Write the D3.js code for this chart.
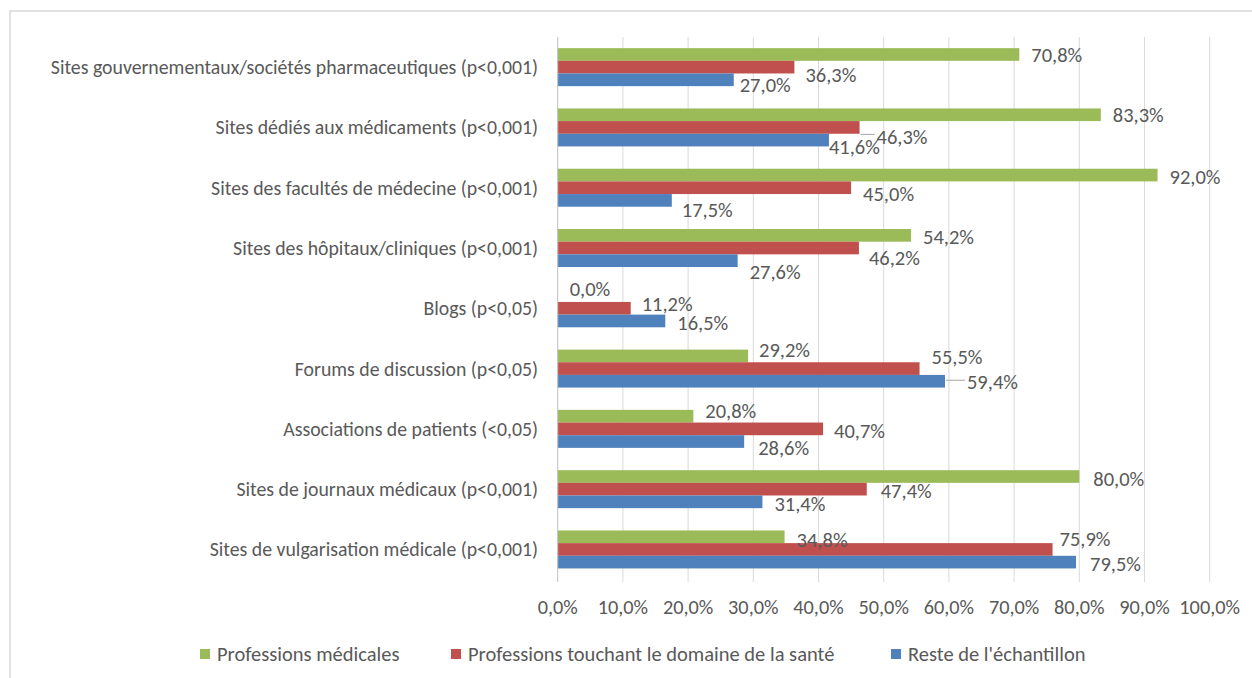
<!DOCTYPE html>
<html>
<head>
<meta charset="utf-8">
<script src="https://cdn.jsdelivr.net/npm/d3@7"></script>
<style>
  body { margin: 0; background: #fff; }
  text { font-family: Carlito, Calibri, "Open Sans", sans-serif; fill: #595959; }
</style>
</head>
<body>
<script>
// Data
const categories = [
  "Sites gouvernementaux/sociétés pharmaceutiques (p<0,001)",
  "Sites dédiés aux médicaments (p<0,001)",
  "Sites des facultés de médecine (p<0,001)",
  "Sites des hôpitaux/cliniques (p<0,001)",
  "Blogs (p<0,05)",
  "Forums de discussion (p<0,05)",
  "Associations de patients (<0,05)",
  "Sites de journaux médicaux (p<0,001)",
  "Sites de vulgarisation médicale (p<0,001)"
];
const seriesNames = ["Professions médicales", "Professions touchant le domaine de la santé", "Reste de l'échantillon"];
const medical = [70.8, 83.3, 92.0, 54.2, 0.0, 29.2, 20.8, 80.0, 34.8];
const healthRelated = [36.3, 46.3, 45.0, 46.2, 11.2, 55.5, 40.7, 47.4, 75.9];
const rest = [27.0, 41.6, 17.5, 27.6, 16.5, 59.4, 28.6, 31.4, 79.5];
const xTicks = [0, 10, 20, 30, 40, 50, 60, 70, 80, 90, 100];
const colors = ["#9BBB59", "#C0504D", "#4F81BD"];

// Excel moved some data labels around; nudges [dx, dy] from the bar end / bar center
const labelNudge = [
  [[12, 0], [12, 0], [12, 2], [12, 1], [12, -7], [11, -6], [12, -5], [14, 2], [12, 3]],
  [[11, 8], [17, 9], [12, 6], [10, 10], [11, -4], [12, -12], [11, 2], [14, 2], [7, -11]],
  [[6, 5], [0, 7], [10, 9], [12, 11], [12, 2], [22, 1], [14, 6], [12, 2], [14, 2]]
];
const leaderLines = [[1, 1], [2, 5]]; // [series, category] labels with a leader line

const width = 1252, height = 678;
const values = [medical, healthRelated, rest];

const svg = d3.select("body").append("svg")
  .attr("width", width)
  .attr("height", height);

// chart frame (only top and left edges show)
svg.append("rect")
  .attr("x", 10).attr("y", 11)
  .attr("width", 1260).attr("height", 700)
  .attr("fill", "none")
  .attr("stroke", "#d9d9d9")
  .attr("stroke-width", 1.5);

const x = d3.scaleLinear().domain([0, 100]).range([557.7, 1209.7]);
const y = d3.scaleBand().domain(categories).range([37, 579.6])
  .paddingInner(0.37).paddingOuter(0.185);
const ySub = d3.scaleBand().domain([0, 1, 2]).range([0, y.bandwidth()]);

const fr = d3.formatLocale({decimal: ",", thousands: " ", grouping: [3], currency: ["", "€"]});
const pct = fr.format(".1f");

// gridlines
svg.append("g").selectAll("line")
  .data(xTicks.slice(1))
  .join("line")
  .attr("x1", d => x(d)).attr("x2", d => x(d))
  .attr("y1", 37).attr("y2", 582)
  .attr("stroke", "#d9d9d9")
  .attr("stroke-width", 1);

// tick labels
svg.append("g").selectAll("text")
  .data(xTicks)
  .join("text")
  .attr("x", d => x(d))
  .attr("y", 607)
  .attr("dy", "0.35em")
  .attr("text-anchor", "middle")
  .style("font-size", "20.3px")
  .text(d => pct(d) + "%");

// bars
const bars = svg.append("g");
values.forEach((vals, s) => {
  bars.append("g").selectAll("rect")
    .data(vals)
    .join("rect")
    .attr("x", x(0))
    .attr("y", (d, i) => y(categories[i]) + ySub(s))
    .attr("width", d => x(d) - x(0))
    .attr("height", ySub.bandwidth())
    .attr("fill", colors[s]);
});

// vertical axis line
svg.append("line")
  .attr("x1", x(0)).attr("x2", x(0))
  .attr("y1", 37).attr("y2", 582)
  .attr("stroke", "#bfbfbf");

// category labels
svg.append("g").selectAll("text")
  .data(categories)
  .join("text")
  .attr("x", 538)
  .attr("y", d => y(d) + y.bandwidth() / 2)
  .attr("dy", "0.35em")
  .attr("text-anchor", "end")
  .style("font-size", "19.8px")
  .text(d => d);

// leader lines
leaderLines.forEach(([s, i]) => {
  const v = values[s][i];
  const yc = y(categories[i]) + ySub(s) + ySub.bandwidth() / 2 + labelNudge[s][i][1];
  svg.append("line")
    .attr("x1", x(v) + 1).attr("x2", x(v) + labelNudge[s][i][0] - 2)
    .attr("y1", yc - 2).attr("y2", yc - 2)
    .attr("stroke", "#a6a6a6");
});

// data labels
values.forEach((vals, s) => {
  svg.append("g").selectAll("text")
    .data(vals)
    .join("text")
    .attr("x", (d, i) => x(d) + labelNudge[s][i][0])
    .attr("y", (d, i) => y(categories[i]) + ySub(s) + ySub.bandwidth() / 2 + labelNudge[s][i][1])
    .attr("dy", "0.35em")
    .style("font-size", "20.5px")
    .text(d => pct(d) + "%");
});

// legend
const legendX = [200, 451, 891];
const legend = svg.append("g").selectAll("g")
  .data(seriesNames)
  .join("g")
  .attr("transform", (d, i) => `translate(${legendX[i]}, 654)`);
legend.append("rect")
  .attr("x", 0).attr("y", -5)
  .attr("width", 10).attr("height", 10)
  .attr("fill", (d, i) => colors[i]);
legend.append("text")
  .attr("x", 17)
  .attr("dy", "0.35em")
  .style("font-size", "20.5px")
  .text(d => d);
</script>
</body>
</html>
